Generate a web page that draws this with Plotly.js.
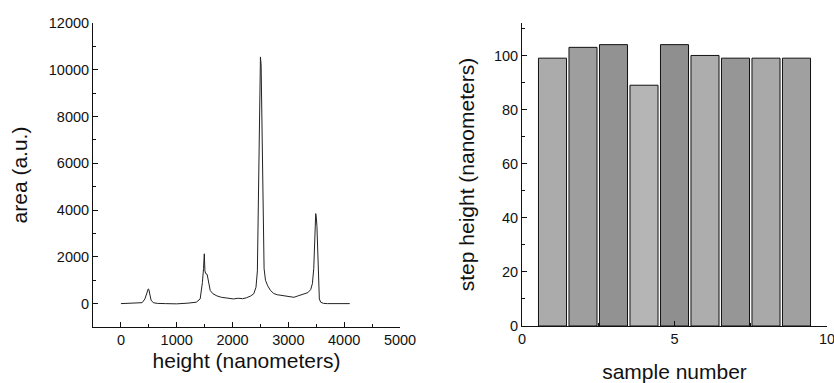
<!DOCTYPE html>
<html>
<head>
<meta charset="utf-8">
<script src="https://cdn.plot.ly/plotly-3.0.1.min.js"></script>
<style>html,body{margin:0;padding:0;background:#fff;}#chart{width:834px;height:383px;}</style>
</head>
<body>
<div id="chart"></div>
<script>
// Left panel: spectrum
const heightNm = [0,100,200,300,380,430,460,480,490,500,515,540,580,650,800,1000,1200,1350,1420,1460,1480,1494,1505,1520,1545,1570,1600,1650,1720,1800,1880,1950,2020,2100,2180,2250,2320,2380,2420,2445,2465,2480,2492,2500,2512,2520,2530,2545,2565,2590,2630,2680,2740,2800,2880,2960,3040,3100,3160,3220,3290,3350,3400,3430,3455,3475,3490,3500,3512,3525,3540,3555,3580,3630,3700,3800,3950,4100];
const areaAU = [0,10,-10,20,40,200,480,600,630,610,420,150,40,10,0,-10,20,60,200,900,1500,2130,1400,1280,1250,900,560,420,330,270,240,210,200,230,210,250,320,420,700,1400,4100,6700,9000,10550,10200,8600,6000,3000,1500,1000,760,560,430,380,350,320,300,270,320,360,420,470,600,850,1500,2800,3850,3700,3300,2000,700,200,60,10,0,0,0,0];

// Right panel: step heights
const sampleNumber = [1,2,3,4,5,6,7,8,9];
const stepHeight = [99,103,104,89,104,100,99,99,99];
const barColors = ['#ababab','#9e9e9e','#929292','#b5b5b5','#8f8f8f','#adadad','#969696','#a9a9a9','#a0a0a0'];

const font = {family: 'Liberation Sans, Arial, sans-serif', color: '#111'};

const traces = [
  {x: heightNm, y: areaAU, type: 'scatter', mode: 'lines',
   line: {color: '#222', width: 1}, xaxis: 'x', yaxis: 'y', hoverinfo: 'skip'},
  {x: sampleNumber, y: stepHeight, type: 'bar', width: 0.92,
   marker: {color: barColors, line: {color: '#111', width: 1}},
   xaxis: 'x2', yaxis: 'y2', hoverinfo: 'skip'}
];

const axisCommon = {
  showline: true, linecolor: '#111', linewidth: 1, showgrid: false, zeroline: false,
  ticks: 'inside', ticklen: 5, tickcolor: '#111', tickwidth: 1,
  tickfont: {family: font.family, size: 14.5, color: '#111'},
  minor: {ticks: 'inside', ticklen: 3, tickcolor: '#111', tickwidth: 1, showgrid: false},
  tickformat: 'd', exponentformat: 'none', separatethousands: false,
  ticklabeloverflow: 'allow',
  mirror: false
};
const titleFont = {family: font.family, size: 21, color: '#111'};

const layout = {
  width: 834, height: 383,
  margin: {l: 0, r: 0, t: 0, b: 0},
  paper_bgcolor: '#fff', plot_bgcolor: '#fff',
  showlegend: false,
  font: font,
  xaxis: Object.assign({}, axisCommon, {
    domain: [93/834, 400/834], range: [-500, 5000], dtick: 1000, tick0: 0,
    minor: Object.assign({}, axisCommon.minor, {dtick: 500}),
    anchor: 'y',
    title: {text: 'height (nanometers)', font: titleFont, standoff: 5}
  }),
  yaxis: Object.assign({}, axisCommon, {
    domain: [56/383, 360/383], range: [-1000, 12000], dtick: 2000, tick0: 0,
    minor: Object.assign({}, axisCommon.minor, {dtick: 1000}),
    anchor: 'x',
    title: {text: 'area (a.u.)', font: titleFont, standoff: 15}
  }),
  xaxis2: Object.assign({}, axisCommon, {
    domain: [522/834, 827/834], range: [0, 10], dtick: 5, tick0: 0,
    minor: Object.assign({}, axisCommon.minor, {dtick: 2.5}),
    anchor: 'y2',
    title: {text: 'sample number', font: titleFont, standoff: 18}
  }),
  yaxis2: Object.assign({}, axisCommon, {
    domain: [57/383, 360/383], range: [0, 112], dtick: 20, tick0: 0,
    minor: Object.assign({}, axisCommon.minor, {dtick: 10}),
    anchor: 'x2',
    title: {text: 'step height (nanometers)', font: titleFont, standoff: 13}
  }),
  bargap: 0.08
};

Plotly.newPlot('chart', traces, layout, {staticPlot: true, displayModeBar: false});
</script>
</body>
</html>
